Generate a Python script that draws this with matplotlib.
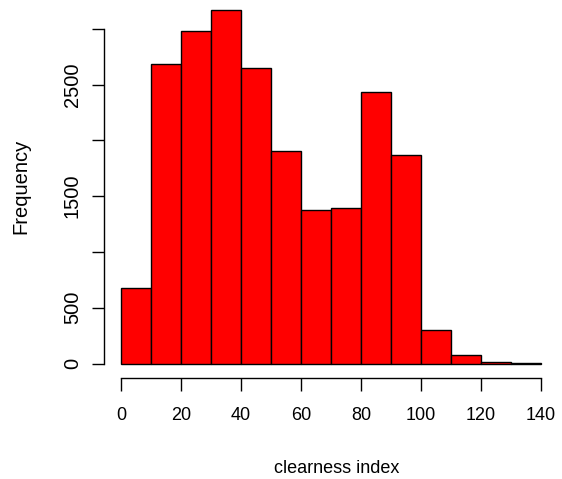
import matplotlib
matplotlib.use("Agg")
import matplotlib.pyplot as plt
import numpy as np

plt.rcParams['font.family'] = ['Liberation Sans', 'DejaVu Sans']

bin_edges = [0, 10, 20, 30, 40, 50, 60, 70, 80, 90, 100, 110, 120, 130, 140]
counts = [675, 2690, 2985, 3170, 2648, 1905, 1378, 1393, 2438, 1866, 296, 78, 10, 4]
x_ticks = [0, 20, 40, 60, 80, 100, 120, 140]
y_ticks = [0, 500, 1000, 1500, 2000, 2500, 3000]
y_labels = ['0', '500', '', '1500', '', '2500', '']

W, H = 562, 479
fig = plt.figure(figsize=(W / 100, H / 100), dpi=100)
left, right = 104.2, 557.8
bottom_px, top_px = 378.0, 0
ax = fig.add_axes([left / W, 1 - bottom_px / H, (right - left) / W, (bottom_px - top_px) / H])

ax.bar(bin_edges[:-1], counts, width=np.diff(bin_edges), align='edge',
       color='#ff0000', edgecolor='black', linewidth=1.0)

ax.set_xlim(-5.6, 145.6)
ax.set_ylim(-130, 3260)

for s in ['top', 'right']:
    ax.spines[s].set_visible(False)
ax.spines['left'].set_bounds(0, 3000)
ax.spines['bottom'].set_bounds(0, 140)
for s in ['left', 'bottom']:
    ax.spines[s].set_linewidth(1.0)

ax.set_xticks(x_ticks)
ax.set_xticklabels([str(t) for t in x_ticks], fontsize=13)
ax.set_yticks(y_ticks)
ax.set_yticklabels(y_labels, fontsize=14.5, rotation=90, va='center')
ax.tick_params(axis='both', length=9, width=1.0, direction='out')
ax.tick_params(axis='x', pad=12)
ax.tick_params(axis='y', pad=7)

fig.text(337 / W, 1 - 473 / H, 'clearness index', ha='center', va='baseline', fontsize=13)
fig.text(21 / W, 1 - 186 / H, 'Frequency', ha='center', va='center', fontsize=14.5, rotation=90)

fig.savefig('out.png', dpi=100)
